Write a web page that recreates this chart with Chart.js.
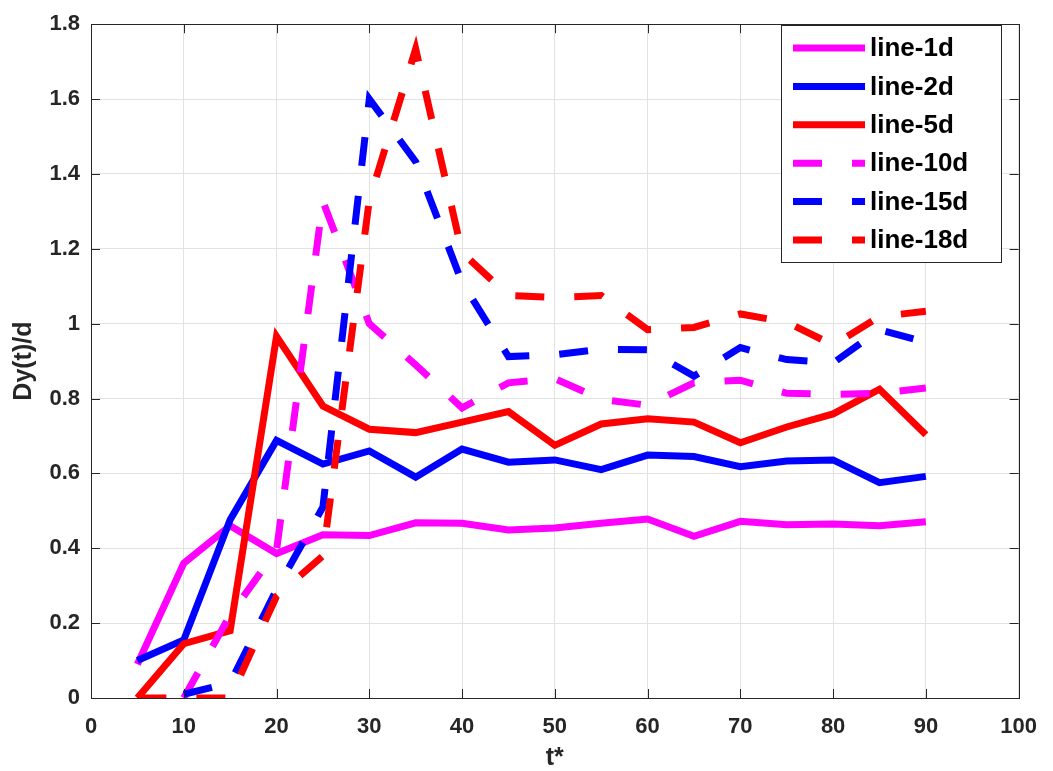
<!DOCTYPE html>
<html>
<head>
<meta charset="utf-8">
<script src="https://cdn.jsdelivr.net/npm/chart.js@4.4.0/dist/chart.umd.min.js"></script>
<style>
  html, body { margin: 0; padding: 0; background: #fff; }
  #wrap { width: 1053px; height: 771px; }
</style>
</head>
<body>
<div id="wrap"><canvas id="dyChart" width="1053" height="771"></canvas></div>
<script>
// t* sample points
const tStar = [5, 10, 15, 20, 25, 30, 35, 40, 45, 50, 55, 60, 65, 70, 75, 80, 85, 90];

// Dy(t)/d per case
const line1d = [0.09, 0.36, 0.46, 0.386, 0.436, 0.434, 0.468, 0.467, 0.449, 0.454, 0.467, 0.478, 0.432, 0.472, 0.463, 0.465, 0.46, 0.471];
const line2d = [0.10, 0.155, 0.476, 0.688, 0.625, 0.66, 0.59, 0.665, 0.63, 0.636, 0.61, 0.649, 0.645, 0.618, 0.633, 0.636, 0.575, 0.592];
const line5d = [0.0, 0.145, 0.18, 0.966, 0.78, 0.718, 0.709, 0.737, 0.765, 0.675, 0.732, 0.746, 0.737, 0.682, 0.724, 0.759, 0.825, 0.703];
const line10d = [null, 0.0, 0.222, 0.394, 1.327, 1.0, 0.89, 0.775, 0.842, 0.853, 0.798, 0.782, 0.842, 0.849, 0.814, 0.811, 0.814, 0.828];
const line15d = [null, 0.01, 0.04, 0.29, 0.51, 1.6, 1.433, 1.11, 0.912, 0.917, 0.932, 0.93, 0.86, 0.936, 0.904, 0.895, 0.984, 0.95];
const line18d = [0.0, 0.0, 0.0, 0.272, 0.38, 1.33, 1.734, 1.19, 1.075, 1.07, 1.075, 0.984, 0.99, 1.026, 1.004, 0.943, 1.019, 1.033];

const seriesNames = ["line-1d", "line-2d", "line-5d", "line-10d", "line-15d", "line-18d"];
const seriesValues = [line1d, line2d, line5d, line10d, line15d, line18d];
const seriesColors = ["#ff00ff", "#0000ff", "#ff0000", "#ff00ff", "#0000ff", "#ff0000"];
const dashed = [false, false, false, true, true, true];

const axisColor = "#262626";
const dashPattern = [29, 30];

function toPoints(values) {
  return tStar.map((t, i) => ({ x: t, y: values[i] }));
}

const datasets = seriesNames.map((name, i) => ({
  label: name,
  data: toPoints(seriesValues[i]),
  borderColor: seriesColors[i],
  backgroundColor: seriesColors[i],
  borderWidth: 7,
  borderDash: dashed[i] ? dashPattern : [],
  borderCapStyle: "butt",
  borderJoinStyle: "miter",
  pointRadius: 0,
  tension: 0,
  fill: false,
  spanGaps: false,
  order: seriesNames.length - i, // later series drawn on top
}));

// box round the plot plus inward tick marks (matlab style)
const boxPlugin = {
  id: "boxPlugin",
  afterDatasetsDraw(chart) {
    const { ctx, chartArea: a, scales } = chart;
    ctx.save();
    ctx.strokeStyle = axisColor;
    ctx.lineWidth = 1;
    ctx.setLineDash([]);
    ctx.beginPath();
    scales.x.ticks.forEach((tk) => {
      const px = Math.round(scales.x.getPixelForValue(tk.value)) + 0.5;
      ctx.moveTo(px, a.bottom);
      ctx.lineTo(px, a.bottom - 9);
      ctx.moveTo(px, a.top);
      ctx.lineTo(px, a.top + 9);
    });
    scales.y.ticks.forEach((tk) => {
      const py = Math.round(scales.y.getPixelForValue(tk.value)) + 0.5;
      ctx.moveTo(a.left, py);
      ctx.lineTo(a.left + 9, py);
      ctx.moveTo(a.right, py);
      ctx.lineTo(a.right - 9, py);
    });
    ctx.stroke();
    ctx.strokeRect(Math.round(a.left) + 0.5, Math.round(a.top) + 0.5,
      Math.round(a.right - a.left), Math.round(a.bottom - a.top));
    ctx.restore();
  },
};

// legend box in the top right corner
const legendBox = {
  id: "legendBox",
  afterDraw(chart) {
    const { ctx } = chart;
    const x0 = 781, y0 = 25, w = 220, h = 237;
    ctx.save();
    ctx.fillStyle = "#ffffff";
    ctx.fillRect(x0, y0, w, h);
    ctx.strokeStyle = axisColor;
    ctx.lineWidth = 1;
    ctx.strokeRect(x0 + 0.5, y0 + 0.5, w, h);
    ctx.font = "bold 26px 'Liberation Sans', Arial, sans-serif";
    ctx.textBaseline = "middle";
    chart.data.datasets.forEach((ds, i) => {
      const yy = 48 + i * 38.4;
      ctx.strokeStyle = ds.borderColor;
      ctx.lineWidth = 7;
      ctx.lineCap = "butt";
      ctx.setLineDash(ds.borderDash);
      ctx.beginPath();
      ctx.moveTo(793, yy);
      ctx.lineTo(865, yy);
      ctx.stroke();
      ctx.setLineDash([]);
      ctx.fillStyle = "#000000";
      ctx.fillText(ds.label, 870, yy + 1);
    });
    ctx.restore();
  },
};

Chart.defaults.font.family = "'Liberation Sans', Arial, sans-serif";
Chart.defaults.color = axisColor;

new Chart(document.getElementById("dyChart").getContext("2d"), {
  type: "line",
  data: { datasets: datasets },
  options: {
    responsive: false,
    animation: false,
    events: [],
    layout: { padding: { top: 17, right: 25, left: 0, bottom: 0 } },
    plugins: {
      legend: { display: false },
      tooltip: { enabled: false },
    },
    scales: {
      x: {
        type: "linear",
        min: 0,
        max: 100,
        ticks: {
          stepSize: 10,
          padding: 16,
          color: axisColor,
          font: { size: 22, weight: "bold" },
          maxRotation: 0,
        },
        grid: { color: "#e2e2e2", lineWidth: 1, drawTicks: false },
        border: { display: false },
        title: {
          display: true,
          text: "t*",
          color: axisColor,
          font: { size: 25, weight: "bold", lineHeight: 1 },
          padding: { top: 0, bottom: 0 },
        },
        afterFit(scale) { scale.height = 73; },
      },
      y: {
        min: 0,
        max: 1.8,
        ticks: {
          stepSize: 0.2,
          padding: 11,
          color: axisColor,
          font: { size: 22, weight: "bold" },
          callback: (v) => String(Math.round(v * 10) / 10),
        },
        grid: { color: "#e2e2e2", lineWidth: 1, drawTicks: false },
        border: { display: false },
        title: {
          display: true,
          text: "Dy(t)/d",
          color: axisColor,
          font: { size: 25, weight: "bold", lineHeight: 1.2 },
          padding: { top: 9, bottom: 0 },
        },
        afterFit(scale) { scale.width = 91; },
      },
    },
  },
  plugins: [boxPlugin, legendBox],
});
</script>
</body>
</html>
